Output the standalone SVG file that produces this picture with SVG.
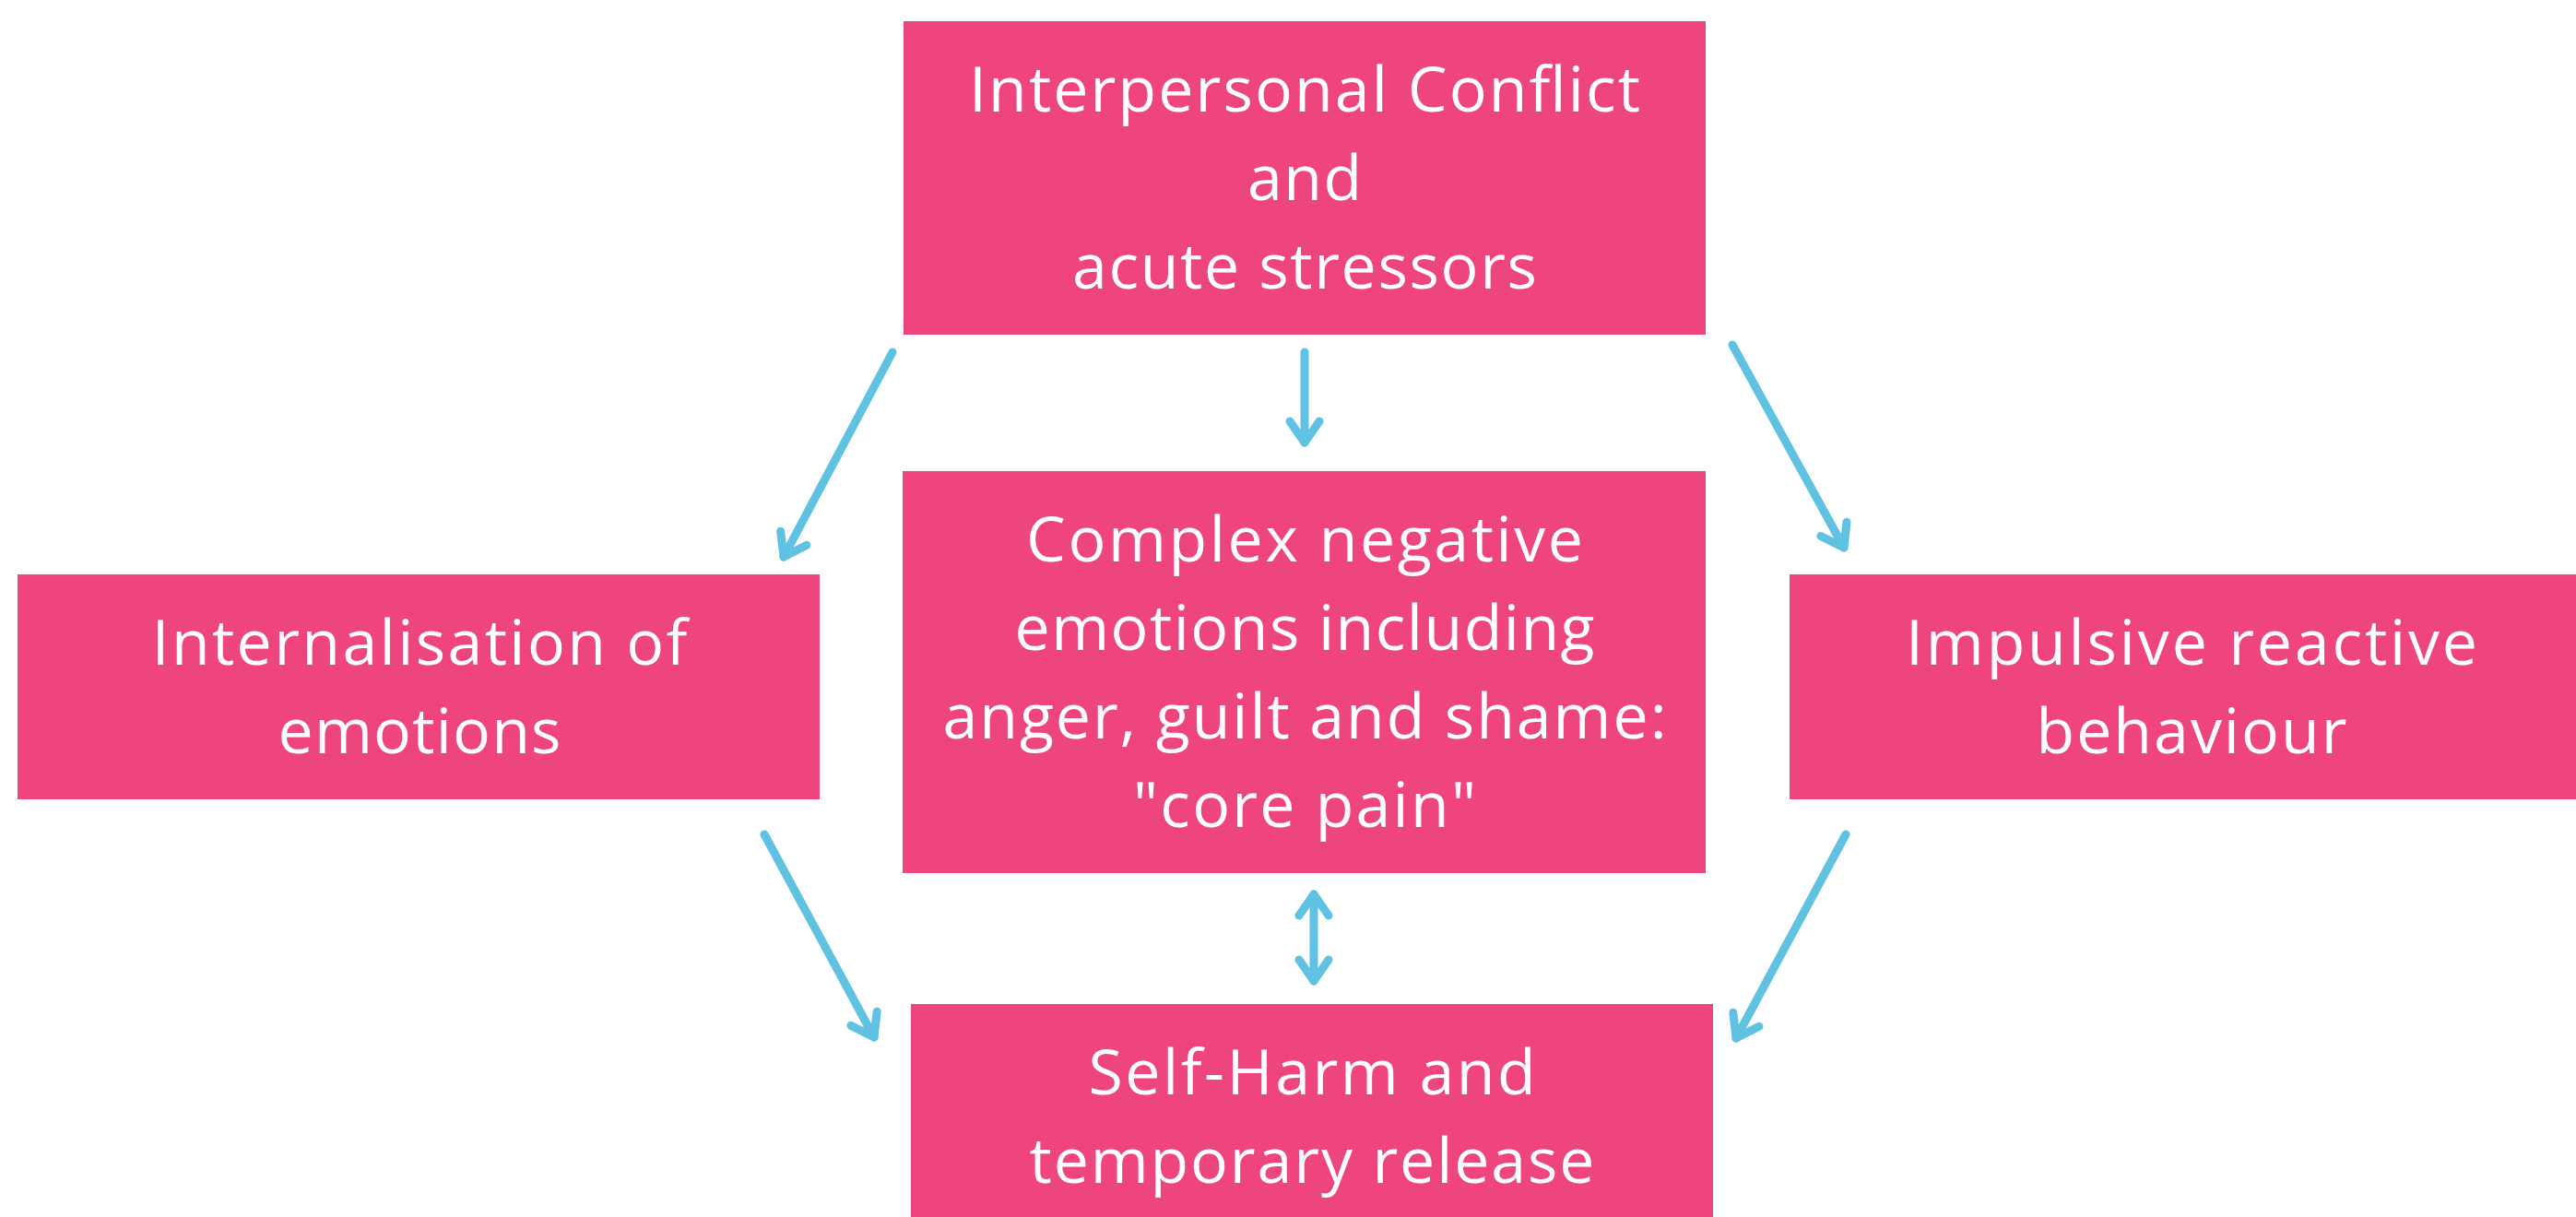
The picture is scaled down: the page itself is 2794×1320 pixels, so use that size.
<svg xmlns="http://www.w3.org/2000/svg" width="2794" height="1320" viewBox="0 0 2794 1320">
  <style>
    .box { fill: #EE4580; }
    .lbl { font-family: "Open Sans", "DejaVu Sans", sans-serif; font-size: 68px; fill: #FFFFFF; text-anchor: middle; }
    .conn { stroke: #5FC2E3; stroke-width: 9; stroke-linecap: round; fill: none; }
    .head { stroke: #5FC2E3; stroke-width: 9; stroke-linecap: round; stroke-linejoin: round; fill: none; }
  </style>
  <defs>
    <marker id="arrow" markerUnits="userSpaceOnUse" markerWidth="60" markerHeight="60" refX="0" refY="0" orient="auto-start-reverse" overflow="visible">
      <path class="head" d="M-23,-16 L0,0 L-23,16"/>
    </marker>
  </defs>
  <rect width="2794" height="1320" fill="#FFFFFF"/>

  <g id="node-conflict">
    <rect class="box" x="980" y="23" width="870" height="340"/>
    <text class="lbl" x="1415" y="121" textLength="728">Interpersonal Conflict</text>
    <text class="lbl" x="1415" y="217" textLength="124">and</text>
    <text class="lbl" x="1415" y="313" textLength="504">acute stressors</text>
  </g>

  <g id="node-core-pain">
    <rect class="box" x="979" y="511" width="871" height="436"/>
    <text class="lbl" x="1415" y="609" textLength="604">Complex negative</text>
    <text class="lbl" x="1415" y="705" textLength="629">emotions including</text>
    <text class="lbl" x="1415" y="801" textLength="785">anger, guilt and shame:</text>
    <text class="lbl" x="1415" y="897" textLength="372">"core pain"</text>
  </g>

  <g id="node-internalisation">
    <rect class="box" x="19" y="623" width="870" height="244"/>
    <text class="lbl" x="455" y="721" textLength="581">Internalisation of</text>
    <text class="lbl" x="455" y="817" textLength="307">emotions</text>
  </g>

  <g id="node-impulsive">
    <rect class="box" x="1941" y="623" width="870" height="244"/>
    <text class="lbl" x="2377" y="721" textLength="620">Impulsive reactive</text>
    <text class="lbl" x="2377" y="817" textLength="337">behaviour</text>
  </g>

  <g id="node-self-harm">
    <rect class="box" x="988" y="1089" width="870" height="240"/>
    <text class="lbl" x="1423" y="1187" textLength="485">Self-Harm and</text>
    <text class="lbl" x="1423" y="1283" textLength="613">temporary release</text>
  </g>

  <g id="connectors">
    <line class="conn" x1="968" y1="382" x2="850" y2="604" marker-end="url(#arrow)"/>
    <line class="conn" x1="1415" y1="382" x2="1415" y2="480" marker-end="url(#arrow)"/>
    <line class="conn" x1="1879" y1="374" x2="2000" y2="594" marker-end="url(#arrow)"/>
    <line class="conn" x1="829" y1="905" x2="948" y2="1125" marker-end="url(#arrow)"/>
    <line class="conn" x1="2002" y1="905" x2="1883" y2="1126" marker-end="url(#arrow)"/>
    <line class="conn" x1="1425" y1="970" x2="1425" y2="1064" marker-start="url(#arrow)" marker-end="url(#arrow)"/>
  </g>
</svg>
